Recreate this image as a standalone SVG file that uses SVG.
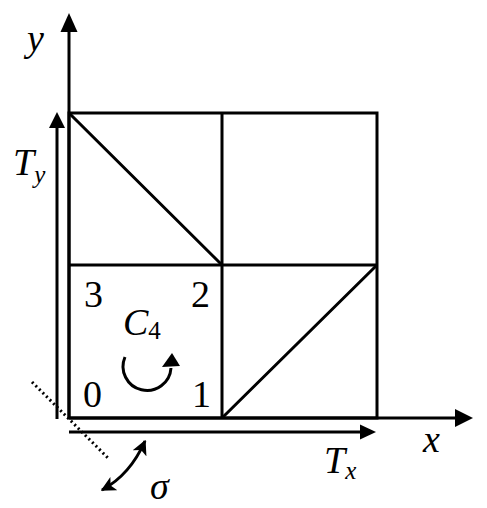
<svg xmlns="http://www.w3.org/2000/svg" width="487" height="508" viewBox="0 0 487 508">
<style>
.ln{stroke:#000;stroke-width:3;fill:none;stroke-linecap:butt}
.hd{fill:#000;stroke:none}
.t{font-family:'Liberation Serif','Times New Roman','DejaVu Serif','Noto Serif',serif;font-size:38px;fill:#000}
.i{font-style:italic}
.s{font-size:25px}
</style>
<defs>
<marker id="ah" viewBox="0 0 10 10" refX="9" refY="5" markerWidth="5" markerHeight="5" markerUnits="strokeWidth" orient="auto-start-reverse">
<path d="M0,0 L10,5 L0,10 L2.5,5 Z" fill="#000"/>
</marker>
</defs>
<g id="grid">
<path class="ln" d="M69,113 H377 V418 H69 Z"/>
<path class="ln" d="M222,113 V418 M69,265 H377"/>
<path class="ln" d="M69,113 L222,265 M222,418 L377,265"/>
</g>
<g id="connectors">
<path class="ln" d="M69,418 V30"/>
<polygon class="hd" points="69,13 60.5,32 77.5,32"/>
<path class="ln" d="M57,419 V126"/>
<polygon class="hd" points="57,112 49,128 65,128"/>
<path class="ln" d="M69,418 H457"/>
<polygon class="hd" points="473,418 455,409 455,427"/>
<path class="ln" d="M69,432 H362"/>
<polygon class="hd" points="376,432 360,424.5 360,439.5"/>
<path d="M32,382 L108,458" stroke="#000" stroke-width="3" stroke-dasharray="2,3" fill="none"/>
<path class="ln" d="M145,441 Q130,475 102,490" marker-start="url(#ah)" marker-end="url(#ah)"/>
<path class="ln" d="M125,357 A24,24 0 1,0 171,368"/>
<polygon class="hd" points="172,353 162,367 180,366"/>
</g>
<g id="labels">
<text class="t i" x="27" y="51" font-family="Liberation Serif, serif">y</text>
<text class="t i" x="13" y="175" font-family="Liberation Serif, serif">T<tspan class="s" dy="8">y</tspan></text>
<text class="t i" x="324" y="473" font-family="Liberation Serif, serif">T<tspan class="s" dy="6">x</tspan></text>
<text class="t i" x="423" y="452" font-family="Liberation Serif, serif">x</text>
<text class="t i" x="150" y="499" font-family="Liberation Serif, serif">σ</text>
<text class="t" x="84" y="307" font-family="Liberation Serif, serif">3</text>
<text class="t" x="191" y="307" font-family="Liberation Serif, serif">2</text>
<text class="t" x="83" y="407" font-family="Liberation Serif, serif">0</text>
<text class="t" x="192" y="407" font-family="Liberation Serif, serif">1</text>
<text class="t i" x="123" y="335" font-family="Liberation Serif, serif">C<tspan class="s" dy="4" font-style="normal">4</tspan></text>
</g>
</svg>
